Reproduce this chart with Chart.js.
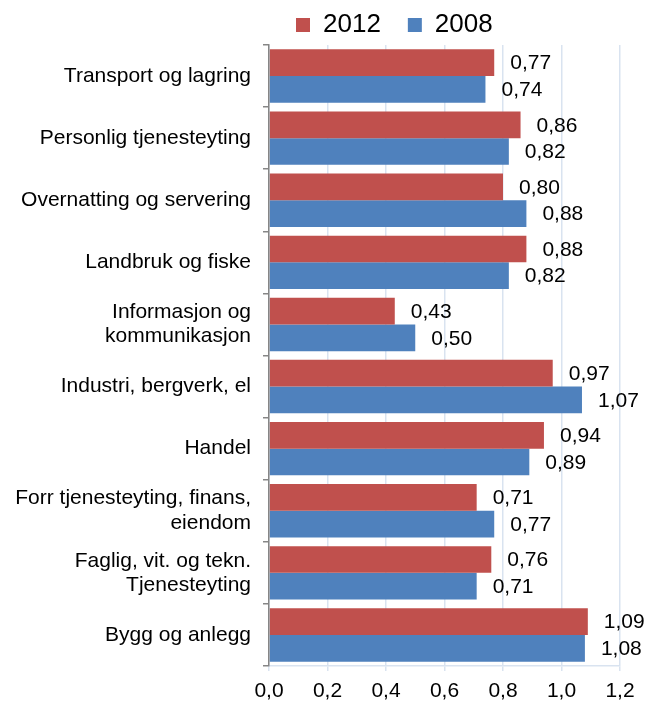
<!DOCTYPE html>
<html><head><meta charset="utf-8">
<script src="https://cdn.jsdelivr.net/npm/chart.js@4.4.0/dist/chart.umd.min.js"></script>
<style>html,body{margin:0;padding:0;background:#fff}#wrap{width:653px;height:701px;position:relative}</style>
</head><body><div id="wrap"><canvas id="c" width="653" height="701"></canvas></div>
<script>
const categories = [
  'Transport og lagring',
  'Personlig tjenesteyting',
  'Overnatting og servering',
  'Landbruk og fiske',
  ['Informasjon og', 'kommunikasjon'],
  'Industri, bergverk, el',
  'Handel',
  ['Forr tjenesteyting, finans,', 'eiendom'],
  ['Faglig, vit. og tekn.', 'Tjenesteyting'],
  'Bygg og anlegg'
];
const seriesNames = ['2012', '2008'];
const values2012 = [0.77, 0.86, 0.80, 0.88, 0.43, 0.97, 0.94, 0.71, 0.76, 1.09];
const values2008 = [0.74, 0.82, 0.88, 0.82, 0.50, 1.07, 0.89, 0.77, 0.71, 1.08];
const xTickLabels = ['0,0', '0,2', '0,4', '0,6', '0,8', '1,0', '1,2'];

const FONT = '"Liberation Sans", Arial, sans-serif';

const valueLabels = {
  id: 'valueLabels',
  afterDatasetsDraw(chart) {
    const ctx = chart.ctx;
    ctx.save();
    ctx.font = '21px ' + FONT;
    ctx.fillStyle = '#000';
    ctx.textAlign = 'left';
    ctx.textBaseline = 'middle';
    chart.data.datasets.forEach((ds, di) => {
      chart.getDatasetMeta(di).data.forEach((bar, i) => {
        ctx.fillText(ds.data[i].toFixed(2).replace('.', ','), bar.x + 16, bar.y + 1);
      });
    });
    ctx.restore();
  }
};

new Chart(document.getElementById('c'), {
  type: 'bar',
  data: {
    labels: categories,
    datasets: [
      { label: seriesNames[0], data: values2012, backgroundColor: '#C0504D', categoryPercentage: 0.86, barPercentage: 1.0 },
      { label: seriesNames[1], data: values2008, backgroundColor: '#4F81BD', categoryPercentage: 0.86, barPercentage: 1.0 }
    ]
  },
  options: {
    indexAxis: 'y',
    responsive: false,
    animation: false,
    devicePixelRatio: 1,
    layout: { padding: { top: -15, right: 33, bottom: 0, left: 0 } },
    plugins: {
      tooltip: { enabled: false },
      legend: {
        position: 'top',
        fullSize: false,
        align: 'start',
        maxHeight: 60,
        labels: {
          boxWidth: 14,
          boxHeight: 14,
          padding: 27,
          color: '#000',
          font: { family: FONT, size: 26 }
        }
      }
    },
    scales: {
      x: {
        min: 0,
        max: 1.2,
        afterFit(scale) { scale.height = 35; },
        ticks: {
          stepSize: 0.2,
          padding: 10,
          color: '#000',
          font: { family: FONT, size: 21, lineHeight: 1.0 },
          callback: (v, i) => xTickLabels[i]
        },
        grid: { color: '#D9E3F0', lineWidth: 1.5, tickLength: 5, drawTicks: true },
        border: { color: '#D9E3F0', width: 1.5 }
      },
      y: {
        afterFit(scale) { scale.width = 269; },
        ticks: {
          padding: 12,
          color: '#000',
          font: { family: FONT, size: 21, lineHeight: 1.15 }
        },
        grid: { drawOnChartArea: false, drawTicks: true, tickLength: 6, color: '#868686', lineWidth: 1.5 },
        border: { color: '#868686', width: 1.5, z: 1 }
      }
    }
  },
  plugins: [valueLabels]
});
</script>
</body></html>
